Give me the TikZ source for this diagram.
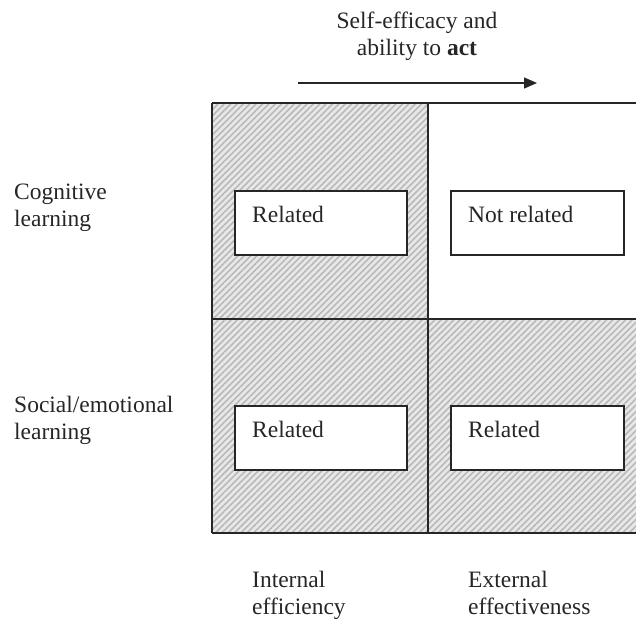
\documentclass[tikz,border=0pt]{standalone}
\usepackage{fontspec}
\setmainfont{Liberation Serif}
\usetikzlibrary{patterns,patterns.meta,calc,arrows.meta}
\begin{document}
\begin{tikzpicture}[x=1pt,y=-1pt,
  txt/.style={font=\fontsize{23.5}{27}\selectfont, text=black!85, inner sep=0pt, anchor=base west, align=left},
  cell/.style={draw=none, minimum width=216pt, minimum height=216pt, inner sep=0pt, outer sep=0pt, anchor=north west},
  shaded/.style={fill=gray!18, postaction={pattern={Lines[angle=45,distance=4.5pt,line width=1.6pt]}, pattern color=gray!55}},
  grid/.style={black!85, line width=1.6pt},
  ibox/.style={draw=black!85, line width=1.5pt, fill=white, minimum width=172pt, minimum height=64pt, inner sep=0pt, anchor=north west}
]
\useasboundingbox (0,0) rectangle (636,621);
% cells
\node[cell, shaded] (c11) at (212,103) {};
\node[cell, fill=white, minimum width=208pt] (c12) at (428,103) {};
\node[cell, shaded, minimum height=214pt] (c21) at (212,319) {};
\node[cell, shaded, minimum width=208pt, minimum height=214pt] (c22) at (428,319) {};
% grid lines (right edge cut off by picture border)
\draw[grid] (c11.north west) -- (c12.north east);
\draw[grid] (c21.north west) -- (c22.north east);
\draw[grid] (c21.south west) -- (c22.south east);
\draw[grid] (c11.north west) -- (c21.south west);
\draw[grid] (c12.north west) -- (c22.south west);
% inner boxes
\node[ibox] (b11) at (234,190) {};
\node[ibox, minimum width=173pt] (b12) at (450,190) {};
\node[ibox] (b21) at (234,405) {};
\node[ibox, minimum width=173pt] (b22) at (450,405) {};
\node[txt] (t11) at ($(b11.north west)+(18,32)$) {Related};
\node[txt] (t12) at ($(b12.north west)+(18,32)$) {Not related};
\node[txt] (t21) at ($(b21.north west)+(18,32)$) {Related};
\node[txt] (t22) at ($(b22.north west)+(18,32)$) {Related};
% row labels (base = last line's baseline)
\node[txt] (r1) at (14,226) {Cognitive\\learning};
\node[txt] (r2) at (14,439) {Social/emotional\\learning};
% column labels
\node[txt] (k1) at (252,614) {Internal\\efficiency};
\node[txt] (k2) at (468,614) {External\\effectiveness};
% title and arrow
\node[txt, anchor=base, align=center] (title) at (417,55) {Self-efficacy and\\ability to \textbf{act}};
\coordinate (a0) at (298,83);
\coordinate (a1) at (537,83);
\draw[black!85, line width=1.4pt, -{Triangle[length=13pt,width=11pt]}] (a0) -- (a1);
\end{tikzpicture}
\end{document}
